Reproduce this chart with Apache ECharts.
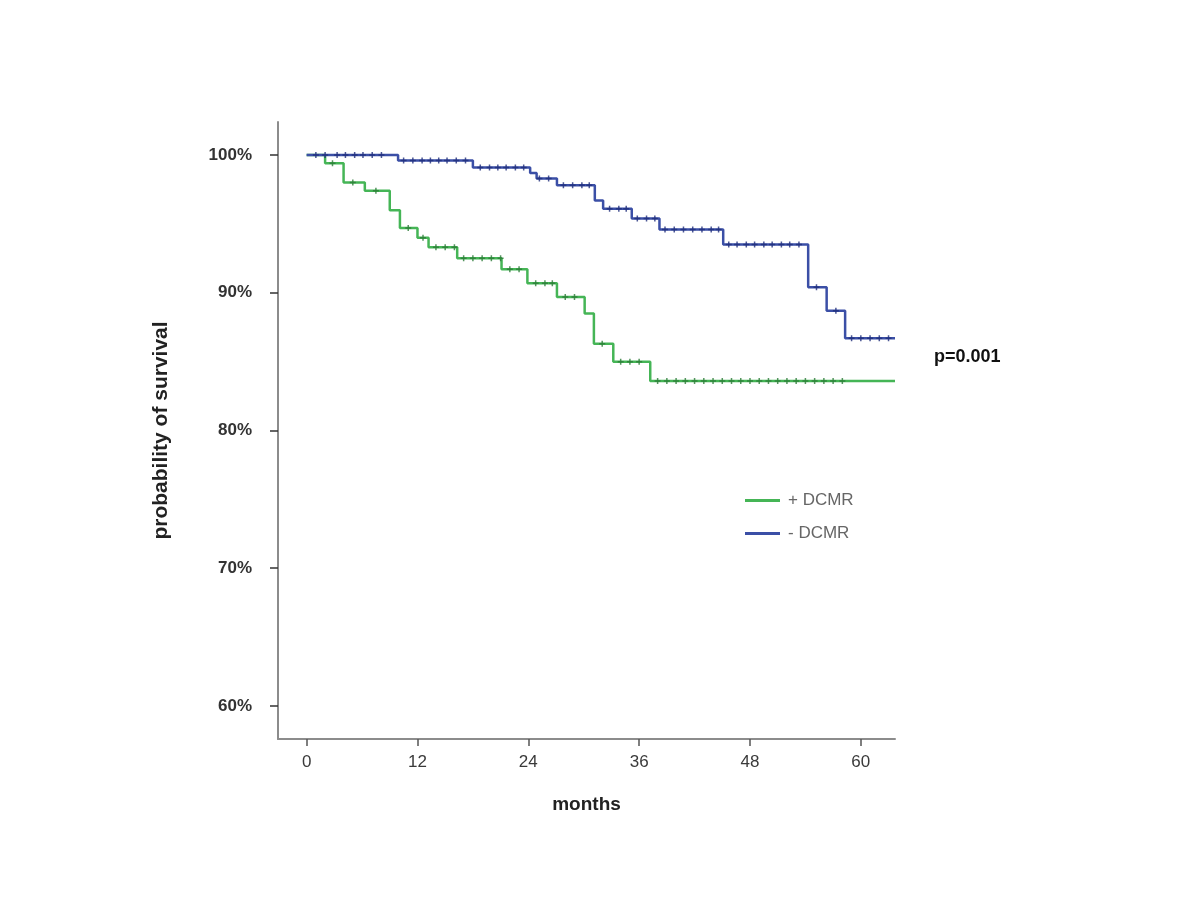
<!DOCTYPE html>
<html>
<head>
<meta charset="utf-8">
<script src="https://cdn.jsdelivr.net/npm/echarts@6/dist/echarts.min.js"></script>
<style>
  html, body { margin: 0; padding: 0; background: #fff; }
  #main { width: 1200px; height: 900px; }
</style>
</head>
<body>
<div id="main"></div>
<script>
// Kaplan-Meier steps: [month, survival % after the drop]
const stepsPlus = [
    [0, 100], [2, 99.4], [4, 98.0], [6.3, 97.4], [9, 96.0], [10.1, 94.7], [12, 94.0],
    [13.2, 93.3], [16.3, 92.5], [21.1, 91.7], [23.9, 90.7], [27.1, 89.7], [30.1, 88.5],
    [31.1, 86.3], [33.2, 85.0], [37.2, 83.6], [63.7, 83.6]
];
const stepsMinus = [
    [0, 100], [9.9, 99.6], [18, 99.1], [24.2, 98.7], [24.9, 98.3], [27.1, 97.8],
    [31.2, 96.7], [32.1, 96.1], [35.2, 95.4], [38.2, 94.6], [45.1, 93.5], [54.3, 90.4],
    [56.3, 88.7], [58.3, 86.7], [63.7, 86.7]
];
// censored observations (months)
const censorPlus = [
    2.8, 5, 7.5, 11, 12.6, 14, 15, 16, 17, 18, 19, 20, 21, 22, 23, 24.8, 25.8, 26.6,
    28, 29, 32, 34, 35, 36, 38, 39, 40, 41, 42, 43, 44, 45, 46, 47, 48, 49, 50, 51,
    52, 53, 54, 55, 56, 57, 58
];
const censorMinus = [
    1, 2, 3.3, 4.2, 5.2, 6.1, 7.1, 8.1, 10.5, 11.5, 12.5, 13.4, 14.3, 15.2, 16.2, 17.2,
    18.8, 19.8, 20.7, 21.6, 22.6, 23.5, 25.2, 26.2, 27.8, 28.8, 29.8, 30.6, 32.8, 33.8,
    34.6, 35.8, 36.8, 37.7, 38.8, 39.8, 40.8, 41.8, 42.8, 43.8, 44.6, 45.7, 46.6, 47.6,
    48.5, 49.5, 50.4, 51.4, 52.3, 53.3, 55.2, 57.3, 59, 60, 61, 62, 63
];
const xTicks = [0, 12, 24, 36, 48, 60];
const yTicks = [60, 70, 80, 90, 100];
const groupNames = ['+ DCMR', '- DCMR'];

const chart = echarts.init(document.getElementById('main'));

// survival level at time t from a step list
function levelAt(steps, t) {
    let s = steps[0][1];
    for (const [m, v] of steps) {
        if (m <= t) s = v;
    }
    return s;
}

const plusShape = 'path://M3,0 L5,0 L5,3 L8,3 L8,5 L5,5 L5,8 L3,8 L3,5 L0,5 L0,3 L3,3 Z';

const option = {
    backgroundColor: '#fff',
    animation: false,
    grid: { left: 278, right: 305, top: 122, bottom: 161 },
    legend: {
        data: groupNames,
        orient: 'vertical',
        left: 740,
        top: 487,
        icon: 'rect',
        itemWidth: 35,
        itemHeight: 3,
        itemGap: 16,
        textStyle: {
            color: '#666',
            fontSize: 17,
            fontFamily: 'Liberation Sans',
            padding: [0, 0, 0, 3]
        }
    },
    xAxis: {
        type: 'value',
        min: -3.1,
        max: 63.7,
        name: 'months',
        nameLocation: 'middle',
        nameGap: 56,
        nameTextStyle: { color: '#222', fontSize: 19, fontWeight: 'bold', fontFamily: 'Liberation Sans' },
        axisLine: { onZero: false, lineStyle: { color: '#8c8c8c', width: 2 } },
        axisTick: { show: true, length: 7, customValues: xTicks, lineStyle: { color: '#555', width: 1.5 } },
        axisLabel: { customValues: xTicks, color: '#3a3a3a', fontSize: 17, margin: 15, fontFamily: 'Liberation Sans' },
        splitLine: { show: false }
    },
    yAxis: {
        type: 'value',
        min: 57.6,
        max: 102.4,
        name: 'probability of survival',
        nameLocation: 'middle',
        nameGap: 106,
        nameRotate: 90,
        nameTextStyle: { color: '#222', fontSize: 21, fontWeight: 'bold', fontFamily: 'Liberation Sans' },
        axisLine: { show: true, onZero: false, lineStyle: { color: '#8c8c8c', width: 2 } },
        axisTick: { show: true, length: 8, customValues: yTicks, lineStyle: { color: '#333', width: 1.5 } },
        axisLabel: {
            customValues: yTicks,
            formatter: '{value}%',
            color: '#333',
            fontSize: 17,
            fontWeight: 'bold',
            margin: 26,
            fontFamily: 'Liberation Sans'
        },
        splitLine: { show: false }
    },
    graphic: [{
        type: 'text',
        left: 934,
        top: 348,
        style: { text: 'p=0.001', fill: '#111', font: 'bold 18px "Liberation Sans"' }
    }],
    series: [{
        name: groupNames[0],
        type: 'line',
        step: 'end',
        data: stepsPlus,
        showSymbol: false,
        lineStyle: { color: '#45b556', width: 2.5 },
        itemStyle: { color: '#45b556' },
        z: 2
    }, {
        name: groupNames[1],
        type: 'line',
        step: 'end',
        data: stepsMinus,
        showSymbol: false,
        lineStyle: { color: '#3b4fa6', width: 2.5 },
        itemStyle: { color: '#3b4fa6' },
        z: 3
    }, {
        name: 'censor +',
        type: 'scatter',
        data: censorPlus.map(t => [t, levelAt(stepsPlus, t)]),
        symbol: plusShape,
        symbolSize: 6,
        itemStyle: { color: '#2a7a36' },
        z: 4
    }, {
        name: 'censor -',
        type: 'scatter',
        data: censorMinus.map(t => [t, levelAt(stepsMinus, t)]),
        symbol: plusShape,
        symbolSize: 6,
        itemStyle: { color: '#1f2d7a' },
        z: 5
    }]
};

chart.setOption(option);
</script>
</body>
</html>
